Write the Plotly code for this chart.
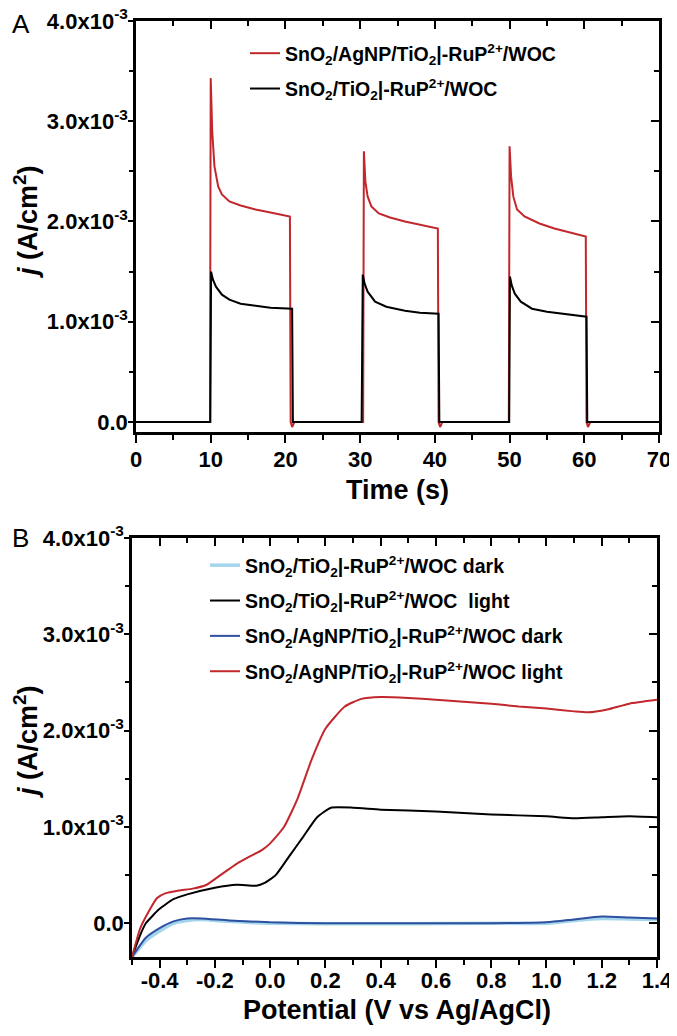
import plotly.graph_objects as go

# page is 677x1036; the html body has an 8px margin, so the figure starts 8px in
W_PAGE, H_PAGE = 677, 1036
OFF = 8
W, H = W_PAGE - OFF, H_PAGE - OFF

# ---------------- Panel A data (time in s, j in 1e-3 A/cm2) ----------------
t_red = [0, 9.9, 10.0, 10.2, 10.5, 11.0, 11.5, 12.5, 14, 16, 18, 20.6, 20.7, 20.9, 21.2,
         30.4, 30.5, 30.7, 31.0, 31.5, 32.5, 34, 36, 38, 40.4, 40.5, 40.7, 41.0,
         49.9, 50.0, 50.2, 50.5, 51.0, 52, 54, 56, 58, 60.2, 60.3, 60.5, 60.8, 70]
j_red = [0, 0, 3.43, 2.90, 2.55, 2.35, 2.27, 2.20, 2.16, 2.12, 2.09, 2.05, 0, -0.05, 0,
         0, 2.70, 2.40, 2.25, 2.15, 2.08, 2.04, 2.00, 1.97, 1.93, 0, -0.05, 0,
         0, 2.75, 2.45, 2.25, 2.12, 2.05, 1.98, 1.93, 1.89, 1.85, 0, -0.05, 0, 0]

t_blk = [0, 9.95, 10.05, 10.3, 10.7, 11.5, 12.5, 14, 16, 18, 20.9, 21.0,
         30.2, 30.35, 30.6, 31.0, 32.0, 33.5, 36, 38, 40.5, 40.6,
         49.95, 50.05, 50.3, 50.7, 51.5, 53, 55, 58, 60.3, 60.4, 70]
j_blk = [0, 0, 1.50, 1.42, 1.35, 1.27, 1.22, 1.18, 1.16, 1.14, 1.13, 0,
         0, 1.47, 1.38, 1.30, 1.20, 1.15, 1.11, 1.09, 1.08, 0,
         0, 1.45, 1.36, 1.28, 1.20, 1.13, 1.10, 1.07, 1.05, 0, 0]

# ---------------- Panel B data (V vs Ag/AgCl, j in 1e-3 A/cm2) ----------------
v_lb = [-0.5, -0.45, -0.4, -0.35, -0.3, -0.25, -0.15, 0.0, 0.2, 0.5, 0.8, 1.0, 1.1, 1.2, 1.3, 1.4]
j_lb = [-0.35, -0.18, -0.08, 0.0, 0.03, 0.04, 0.02, 0.0, -0.005, -0.005, 0.0, 0.0, 0.03, 0.05, 0.045, 0.04]

v_blk = [-0.5, -0.47, -0.45, -0.4, -0.35, -0.3, -0.2, -0.12, -0.05, -0.02, 0.02, 0.07, 0.12, 0.17,
         0.22, 0.3, 0.4, 0.6, 0.8, 1.0, 1.1, 1.2, 1.3, 1.4]
j_blkB = [-0.35, -0.12, 0.0, 0.15, 0.25, 0.30, 0.37, 0.40, 0.39, 0.42, 0.50, 0.70, 0.90, 1.10,
          1.20, 1.20, 1.18, 1.16, 1.13, 1.11, 1.09, 1.10, 1.11, 1.10]

v_db = [-0.5, -0.45, -0.4, -0.35, -0.3, -0.25, -0.15, 0.0, 0.2, 0.5, 0.8, 1.0, 1.1, 1.2, 1.3, 1.4]
j_db = [-0.35, -0.15, -0.05, 0.02, 0.05, 0.05, 0.03, 0.01, 0.0, 0.0, 0.0, 0.01, 0.04, 0.07, 0.06, 0.05]

v_red = [-0.5, -0.47, -0.44, -0.41, -0.38, -0.33, -0.28, -0.23, -0.18, -0.12, -0.07, -0.03, 0.0,
         0.05, 0.10, 0.15, 0.20, 0.27, 0.33, 0.4, 0.5, 0.6, 0.7, 0.8, 0.9, 1.0, 1.1, 1.15,
         1.22, 1.3, 1.4]
j_redB = [-0.35, -0.05, 0.12, 0.26, 0.31, 0.34, 0.36, 0.40, 0.50, 0.62, 0.70, 0.76, 0.83,
          1.00, 1.30, 1.70, 2.02, 2.25, 2.33, 2.35, 2.34, 2.32, 2.30, 2.28, 2.25, 2.23, 2.20, 2.19,
          2.22, 2.28, 2.32]

# ticks
yA_ticks = [0, 1, 2, 3, 4]
y_ticktext = ["0.0", "1.0x10<sup>-3</sup>", "2.0x10<sup>-3</sup>", "3.0x10<sup>-3</sup>", "4.0x10<sup>-3</sup>"]
y_minor = [0.5, 1.5, 2.5, 3.5]
xA_ticks = [0, 10, 20, 30, 40, 50, 60, 70]
xA_minor = [5, 15, 25, 35, 45, 55, 65]
xB_ticks = [-0.4, -0.2, 0.0, 0.2, 0.4, 0.6, 0.8, 1.0, 1.2, 1.4]
xB_ticktext = ["-0.4", "-0.2", "0.0", "0.2", "0.4", "0.6", "0.8", "1.0", "1.2", "1.4"]
xB_minor = [-0.5, -0.3, -0.1, 0.1, 0.3, 0.5, 0.7, 0.9, 1.1, 1.3]

RED = "#c1272d"
BLACK = "#000000"
DBLUE = "#2f4f9f"
LBLUE = "#a3d6ec"

lab_a1 = "SnO<sub>2</sub>/AgNP/TiO<sub>2</sub>|-RuP<sup>2+</sup>/WOC"
lab_a2 = "SnO<sub>2</sub>/TiO<sub>2</sub>|-RuP<sup>2+</sup>/WOC"
lab_b1 = "SnO<sub>2</sub>/TiO<sub>2</sub>|-RuP<sup>2+</sup>/WOC dark"
lab_b2 = "SnO<sub>2</sub>/TiO<sub>2</sub>|-RuP<sup>2+</sup>/WOC  light"
lab_b3 = "SnO<sub>2</sub>/AgNP/TiO<sub>2</sub>|-RuP<sup>2+</sup>/WOC dark"
lab_b4 = "SnO<sub>2</sub>/AgNP/TiO<sub>2</sub>|-RuP<sup>2+</sup>/WOC light"

FONT = "Liberation Sans"

fig = go.Figure()

# Panel A traces
fig.add_trace(go.Scatter(x=t_red, y=j_red, mode="lines", line=dict(color=RED, width=2),
                         name=lab_a1, legend="legend", legendgroup="a1", xaxis="x", yaxis="y"))
fig.add_trace(go.Scatter(x=t_blk, y=j_blk, mode="lines", line=dict(color=BLACK, width=2),
                         name=lab_a2, legend="legend", legendgroup="a2", xaxis="x", yaxis="y"))
# Panel B traces
sp = dict(shape="spline", smoothing=0.5)
fig.add_trace(go.Scatter(x=v_lb, y=j_lb, mode="lines", line=dict(color=LBLUE, width=3.5, **sp),
                         name=lab_b1, legend="legend2", legendgroup="b1", xaxis="x2", yaxis="y2"))
fig.add_trace(go.Scatter(x=v_blk, y=j_blkB, mode="lines", line=dict(color=BLACK, width=2, **sp),
                         name=lab_b2, legend="legend2", legendgroup="b2", xaxis="x2", yaxis="y2"))
fig.add_trace(go.Scatter(x=v_db, y=j_db, mode="lines", line=dict(color=DBLUE, width=2, **sp),
                         name=lab_b3, legend="legend2", legendgroup="b3", xaxis="x2", yaxis="y2"))
fig.add_trace(go.Scatter(x=v_red, y=j_redB, mode="lines", line=dict(color=RED, width=2, **sp),
                         name=lab_b4, legend="legend2", legendgroup="b4", xaxis="x2", yaxis="y2"))
# empty traces to attach mirror-tick axes
for xa, ya in (("x3", "y3"), ("x4", "y4")):
    fig.add_trace(go.Scatter(x=[], y=[], showlegend=False, xaxis=xa, yaxis=ya, hoverinfo="skip"))

tickfont = dict(family=FONT, size=22, color="black", weight="bold")

def px_x(p):
    return (p - OFF) / W

def px_y(p):
    return 1 - (p - OFF) / H

dAx = [px_x(136), px_x(659)]
dAy = [px_y(432), px_y(21)]
dBx = [px_x(132), px_x(657)]
dBy = [px_y(957), px_y(538)]

rA = [-0.1, 4.0]
rB = [-0.35, 4.0]

common_line = dict(showline=True, linecolor="black", linewidth=2.5, showgrid=False, zeroline=False,
                   automargin=False, ticklabeloverflow="allow")
mirror_ax = dict(showline=False, showgrid=False, zeroline=False, automargin=False,
                 showticklabels=False, ticks="inside", ticklen=8, tickwidth=2, tickcolor="black")

layout = dict(
    width=W, height=H, margin=dict(l=0, r=0, t=0, b=0, autoexpand=False),
    paper_bgcolor="white", plot_bgcolor="white",
    showlegend=True,
    xaxis=dict(domain=dAx, anchor="y", range=[0, 70], tickvals=xA_ticks, ticks="outside",
               ticklen=8, tickwidth=2, tickcolor="black", tickfont=tickfont, mirror=True,
               ticklabelstandoff=-2,
               minor=dict(tickvals=xA_minor, ticks="outside", ticklen=5, tickwidth=2, tickcolor="black"),
               **common_line),
    yaxis=dict(domain=dAy, anchor="x", range=rA, tickvals=yA_ticks, ticktext=y_ticktext,
               ticks="outside", ticklen=5, tickwidth=2, tickcolor="black", tickfont=tickfont, mirror=True,
               ticklabelstandoff=-4,
               minor=dict(tickvals=y_minor, ticks="outside", ticklen=4, tickwidth=2, tickcolor="black"),
               **common_line),
    xaxis3=dict(domain=dAx, anchor="y3", overlaying="x", side="top", range=[0, 70], tickvals=xA_ticks,
                minor=dict(tickvals=xA_minor, ticks="inside", ticklen=5, tickwidth=2, tickcolor="black"),
                **mirror_ax),
    yaxis3=dict(domain=dAy, anchor="x3", overlaying="y", side="right", range=rA, tickvals=yA_ticks,
                minor=dict(tickvals=y_minor, ticks="inside", ticklen=5, tickwidth=2, tickcolor="black"),
                **mirror_ax),
    xaxis2=dict(domain=dBx, anchor="y2", range=[-0.5, 1.4], tickvals=xB_ticks, ticktext=xB_ticktext,
                ticks="outside", ticklen=8, tickwidth=2, tickcolor="black", tickfont=tickfont, mirror=True,
                ticklabelstandoff=-6,
                minor=dict(tickvals=xB_minor, ticks="outside", ticklen=5, tickwidth=2, tickcolor="black"),
                **common_line),
    yaxis2=dict(domain=dBy, anchor="x2", range=rB, tickvals=yA_ticks, ticktext=y_ticktext,
                ticks="outside", ticklen=5, tickwidth=2, tickcolor="black", tickfont=tickfont, mirror=True,
                ticklabelstandoff=-4,
                minor=dict(tickvals=y_minor, ticks="outside", ticklen=4, tickwidth=2, tickcolor="black"),
                **common_line),
    xaxis4=dict(domain=dBx, anchor="y4", overlaying="x2", side="top", range=[-0.5, 1.4], tickvals=xB_ticks,
                minor=dict(tickvals=xB_minor, ticks="inside", ticklen=5, tickwidth=2, tickcolor="black"),
                **mirror_ax),
    yaxis4=dict(domain=dBy, anchor="x4", overlaying="y2", side="right", range=rB, tickvals=yA_ticks,
                minor=dict(tickvals=y_minor, ticks="inside", ticklen=5, tickwidth=2, tickcolor="black"),
                **mirror_ax),
    legend=dict(x=px_x(245), y=px_y(34), xanchor="left", yanchor="top", bgcolor="rgba(0,0,0,0)",
                font=dict(family=FONT, size=19.5, color="black", weight="bold"), tracegroupgap=7,
                itemwidth=30),
    legend2=dict(x=px_x(205), y=px_y(546), xanchor="left", yanchor="top", bgcolor="rgba(0,0,0,0)",
                 font=dict(family=FONT, size=19.5, color="black", weight="bold"), tracegroupgap=7,
                 itemwidth=30),
)

ann = []
ann.append(dict(text="A", x=px_x(10), y=px_y(24), xref="paper", yref="paper", xanchor="left",
                yanchor="middle", showarrow=False, font=dict(family=FONT, size=26, color="black")))
ann.append(dict(text="B", x=px_x(10), y=px_y(538), xref="paper", yref="paper", xanchor="left",
                yanchor="middle", showarrow=False, font=dict(family=FONT, size=26, color="black")))
ann.append(dict(text="<b>Time (s)</b>", x=px_x(397), y=px_y(490), xref="paper", yref="paper",
                xanchor="center", yanchor="middle",
                showarrow=False, font=dict(family=FONT, size=27, color="black")))
ann.append(dict(text="<b>Potential (V vs Ag/AgCl)</b>", x=px_x(397), y=px_y(1010), xref="paper", yref="paper",
                xanchor="center", yanchor="middle",
                showarrow=False, font=dict(family=FONT, size=27, color="black")))
for yc in (222, 742):
    ann.append(dict(text="<b><i>j</i> (A/cm<sup>2</sup>)</b>", x=px_x(26), y=px_y(yc), xref="paper",
                    yref="paper", textangle=-90, showarrow=False, xanchor="center", yanchor="middle",
                    font=dict(family=FONT, size=27, color="black")))
layout["annotations"] = ann

fig.update_layout(**layout)
fig.write_html("out.html")
